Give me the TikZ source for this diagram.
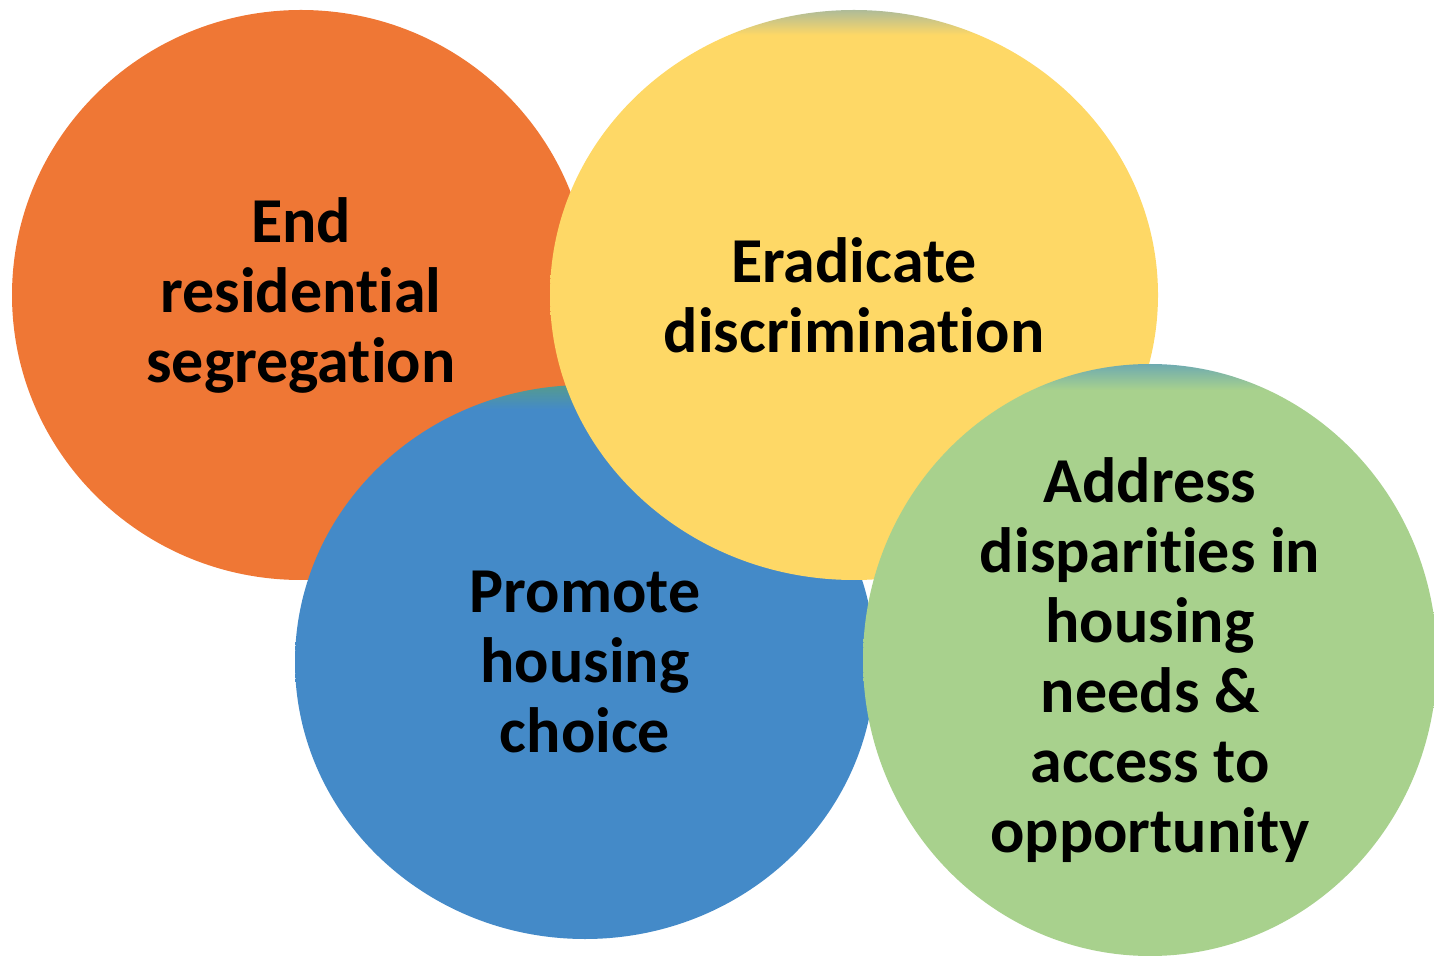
\documentclass[tikz,border=0pt]{standalone}
\usepackage{fontspec}
\setmainfont{Carlito}[Ligatures=NoCommon]
\usepackage{xcolor}
\usetikzlibrary{shapes}

\definecolor{segorange}{HTML}{EF7735}
\definecolor{discyellow}{HTML}{FED866}
\definecolor{discyellowtop}{HTML}{AEBB98}
\definecolor{choiceblue}{HTML}{448AC8}
\definecolor{choicebluetop}{HTML}{559B8E}
\definecolor{accessgreen}{HTML}{A8D18D}
\definecolor{accessgreentop}{HTML}{6EAAB0}

\pgfdeclareverticalshading{yellowtop}{100bp}{color(0bp)=(discyellow); color(72.8bp)=(discyellow); color(75bp)=(discyellowtop); color(100bp)=(discyellowtop)}
\pgfdeclareverticalshading{bluetop}{100bp}{color(0bp)=(choiceblue); color(72.8bp)=(choiceblue); color(75bp)=(choicebluetop); color(100bp)=(choicebluetop)}
\pgfdeclareverticalshading{greentop}{100bp}{color(0bp)=(accessgreen); color(72.8bp)=(accessgreen); color(75bp)=(accessgreentop); color(100bp)=(accessgreentop)}

\begin{document}
\begin{tikzpicture}[x=0.5pt,y=-0.5pt]
        \tikzstyle{bubble}=[ellipse,inner sep=0pt,align=center,text=black,font=\bfseries\fontsize{32}{35}\selectfont]
        \useasboundingbox (0,0) rectangle (1434,956);
        
        \draw node at (301, 295) [bubble, fill=segorange, minimum width=289pt, minimum height=285pt] (seg) {End\\residential\\segregation};
        \draw node at (585, 662) [bubble, shade, shading=bluetop, minimum width=290pt, minimum height=277pt] (choice) {Promote\\housing\\choice};
        \draw node at (854, 295) [bubble, shade, shading=yellowtop, minimum width=304pt, minimum height=285pt] (disc) {Eradicate\\discrimination};
        \draw node at (1150, 660) [bubble, shade, shading=greentop, minimum width=287pt, minimum height=296pt] (access) {Address\\disparities in\\housing\\needs \&\\access to\\opportunity};
    \end{tikzpicture}
\end{document}
